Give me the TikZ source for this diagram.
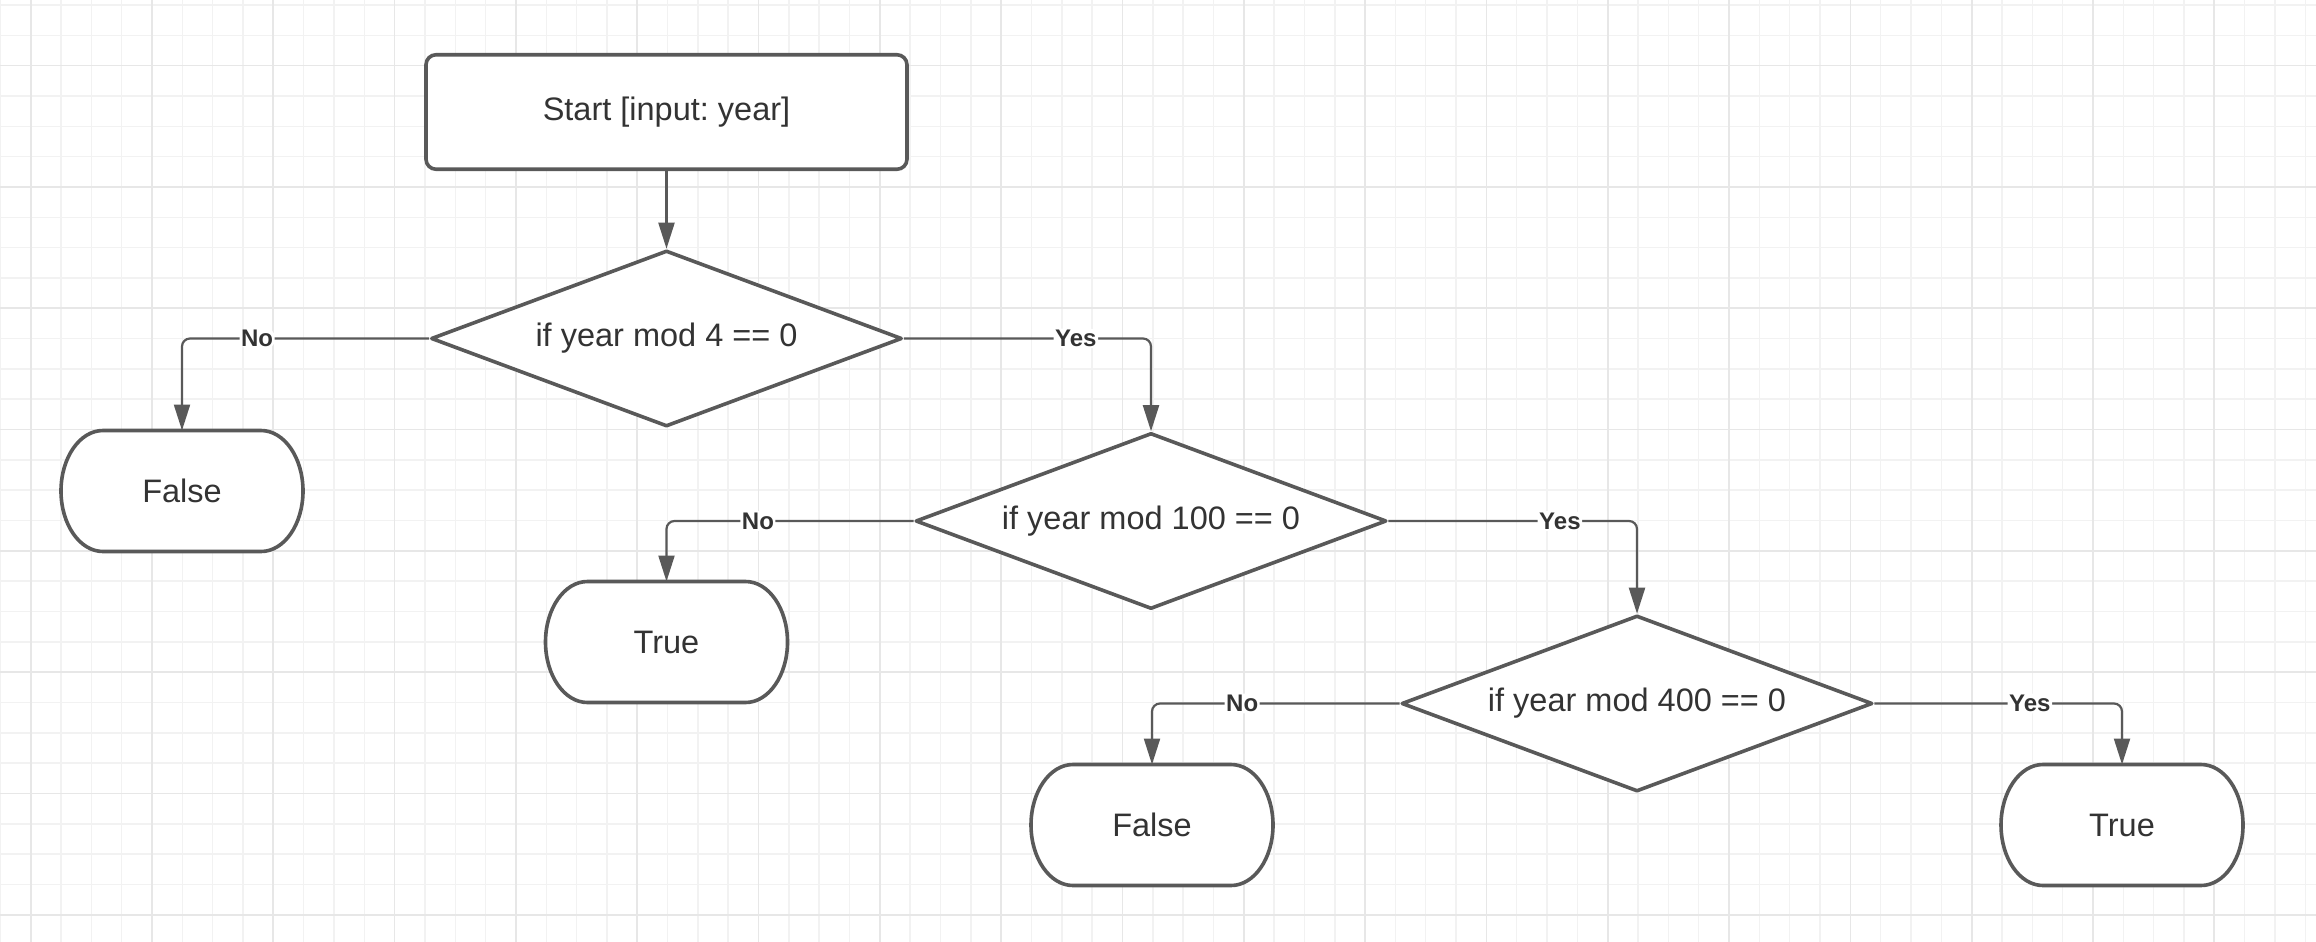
\documentclass[tikz,border=0pt]{standalone}
\usepackage{fontspec}
\setmainfont{Liberation Sans}
\frenchspacing
\usetikzlibrary{shapes.geometric,arrows.meta}
\definecolor{ln}{HTML}{595959}
\definecolor{tx}{HTML}{333333}
\definecolor{gmin}{HTML}{F2F2F2}
\definecolor{gmaj}{HTML}{E7E7E7}
\pgfdeclarelayer{gridlayer}
\pgfdeclarelayer{shapelayer}
\pgfsetlayers{gridlayer,shapelayer,main}
\tikzset{
  box/.style={draw=ln, line width=3.6pt, fill=white, text=tx,
    font=\fontsize{32.5}{39}\selectfont, inner sep=0pt},
  startbox/.style={box, rectangle, rounded corners=10pt,
    minimum width=481pt, minimum height=114.5pt},
  decision/.style={box, diamond, line join=round, shape aspect=2.676,
    minimum width=471pt, minimum height=176pt},
  term/.style={text=tx, font=\fontsize{32.5}{39}\selectfont, inner sep=0pt,
    outer sep=0pt, minimum width=242pt, minimum height=121pt},
  termline/.style={draw=ln, line width=3.6pt, fill=white, line join=round},
  conn/.style={draw=ln, line width=2.2pt, rounded corners=8pt,
    -{Triangle[length=26pt,width=16pt]}},
  lbl/.style={fill=white, text=tx, font=\bfseries\fontsize{24}{28}\selectfont,
    inner sep=1.5pt},
  gridminor/.style={draw=gmin, line width=1.4pt},
  gridmajor/.style={draw=gmaj, line width=1.8pt},
}
\newcommand\termoutline[1]{%
  \draw[termline] ([xshift=42pt]#1.north west) -- ([xshift=-42pt]#1.north east)
    arc[start angle=90, end angle=-90, x radius=42pt, y radius=60.5pt]
    -- ([xshift=42pt]#1.south west)
    arc[start angle=270, end angle=90, x radius=42pt, y radius=60.5pt] -- cycle;}
\begin{document}
\begin{tikzpicture}[x=1pt,y=1pt]
\useasboundingbox (0,0) rectangle (2316,-942);
\begin{pgfonlayer}{gridlayer}
  \fill[white] (0,0) rectangle (2316,-942);
  \foreach \k in {-1,...,75}{
    \pgfmathsetmacro\xx{30.6+30.33*\k}
    \draw[gridminor] (\xx,0) -- (\xx,-942);
  }
  \foreach \k in {0,...,30}{
    \pgfmathsetmacro\yy{-(4.9+30.33*\k)}
    \draw[gridminor] (0,\yy) -- (2316,\yy);
  }
  \foreach \m in {0,...,18}{
    \pgfmathsetmacro\xx{30.6+121.32*\m}
    \draw[gridmajor] (\xx,0) -- (\xx,-942);
  }
  \foreach \m in {0,...,7}{
    \pgfmathsetmacro\yy{-(65.56+121.32*\m)}
    \draw[gridmajor] (0,\yy) -- (2316,\yy);
  }
\end{pgfonlayer}

\node[startbox] (start) at (666.5,-112) {Start [input: year]};
\node[decision] (d1) at (666.5,-338.5) {if year mod 4 == 0};
\node[decision] (d2) at (1151,-521) {if year mod 100 == 0};
\node[decision] (d3) at (1637,-703.5) {if year mod 400 == 0};

\node[term] (f1) at (182,-491) {False};
\node[term] (t1) at (666.5,-642) {True};
\node[term] (f2) at (1152,-825) {False};
\node[term] (t2) at (2122,-825) {True};

\begin{pgfonlayer}{shapelayer}
  \termoutline{f1}
  \termoutline{t1}
  \termoutline{f2}
  \termoutline{t2}
\end{pgfonlayer}

\draw[conn] (start.south) -- (d1.north);
\draw[conn] (d1.west) -| node[lbl, pos=0.348] {No} (f1.north);
\draw[conn] (d1.east) -| node[lbl, pos=0.348] {Yes} (d2.north);
\draw[conn] (d2.west) -| node[lbl, pos=0.315] {No} (t1.north);
\draw[conn] (d2.east) -| node[lbl, pos=0.345] {Yes} (d3.north);
\draw[conn] (d3.west) -| node[lbl, pos=0.318] {No} (f2.north);
\draw[conn] (d3.east) -| node[lbl, pos=0.314] {Yes} (t2.north);
\end{tikzpicture}
\end{document}
